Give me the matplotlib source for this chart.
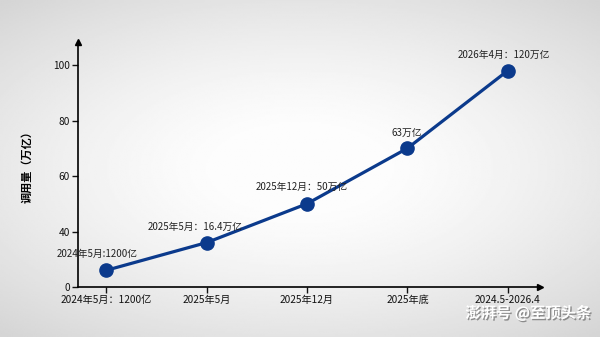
import numpy as np
import matplotlib.pyplot as plt
import matplotlib.patheffects as pe

plt.rcParams['font.family'] = ['Noto Sans CJK SC', 'DejaVu Sans']
plt.rcParams['font.weight'] = 'medium'

# data
categories = ['2024年5月：1200亿', '2025年5月', '2025年12月', '2025年底', '2024.5-2026.4']
values = [26, 36, 50, 70, 98]
point_labels = ['2024年5月:1200亿', '2025年5月：16.4万亿', '2025年12月：50万亿', '63万亿', '2026年4月：120万亿']
ytick_pos = [20, 40, 60, 80, 100]
ytick_labels = ['0', '40', '60', '80', '100']

fig = plt.figure(figsize=(6, 3.37), dpi=100)

# soft radial background
bg = fig.add_axes([0, 0, 1, 1], zorder=-1)
yy, xx = np.mgrid[-1:1:200j, -1:1:356j]
r = np.sqrt((xx * 0.9) ** 2 + (yy * 1.0) ** 2)
shade = 0.99 - 0.14 * np.clip(r - 0.25, 0, None) ** 1.3
bg.imshow(shade, cmap='gray', vmin=0, vmax=1, aspect='auto', extent=[0, 1, 0, 1])
bg.axis('off')

ax = fig.add_axes([78 / 600, 50 / 337, 462 / 600, 245 / 337])
ax.patch.set_alpha(0)
x = np.arange(len(categories))
ax.plot(x, values, color='#0b3a8c', lw=2.3, marker='o', ms=9.5, zorder=3)

offsets = [(-9, 16), (-11, 16), (-5, 17), (-1, 15), (-4, 16)]
for xi, yi, lab, off in zip(x, values, point_labels, offsets):
    ax.annotate(lab, (xi, yi), xytext=off, textcoords='offset pixels',
                ha='center', va='center', fontsize=7, color='#222222')

ax.set_xlim(-0.28, 4.32)
ax.set_ylim(20, 108.3)
ax.set_xticks(x, categories, fontsize=7.3)
ax.set_yticks(ytick_pos, ytick_labels, fontsize=7.3)
ax.tick_params(length=4, width=1, pad=2, colors='#111111')
ax.set_ylabel('调用量（万亿）', fontsize=8, fontweight='bold', labelpad=14)

for s in ['top', 'right']:
    ax.spines[s].set_visible(False)
for s in ['left', 'bottom']:
    ax.spines[s].set_linewidth(1.2)
ax.plot(1, 0, '>k', ms=4, transform=ax.transAxes, clip_on=False)
ax.plot(0, 1, '^k', ms=4, transform=ax.transAxes, clip_on=False)

fig.text(0.985, 0.045, '澎湃号 @至顶头条', ha='right', va='bottom', fontsize=11,
         color='white', style='italic', fontweight='bold',
         path_effects=[pe.withSimplePatchShadow(offset=(1, -1), shadow_rgbFace='#777777', alpha=0.8)])

fig.savefig('out.png', dpi=100)
